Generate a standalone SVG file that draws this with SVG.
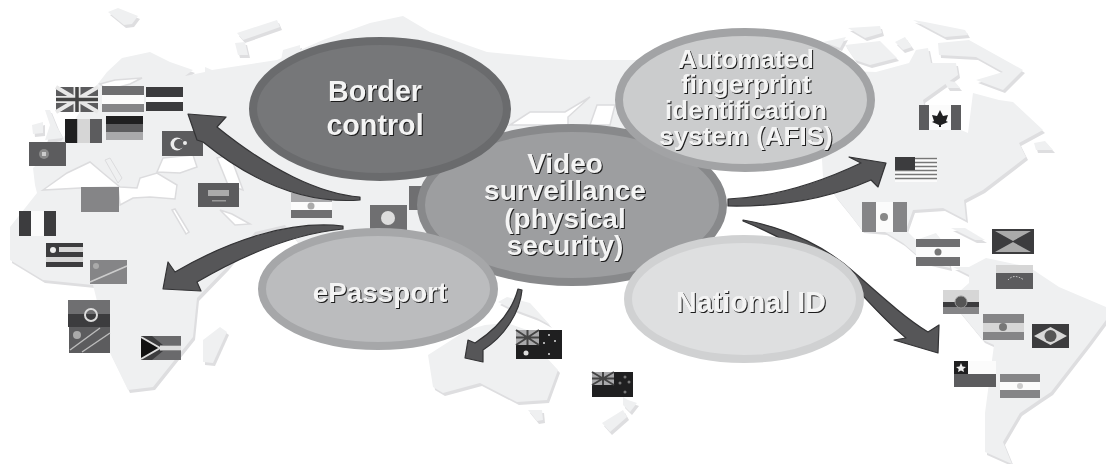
<svg xmlns="http://www.w3.org/2000/svg" xmlns:xlink="http://www.w3.org/1999/xlink" width="1106" height="464" viewBox="0 0 1106 464">
<style>
.gap{fill:#fff;stroke:#dcdcde;stroke-width:1.500}
.node-text{font-family:"Liberation Sans",Arial,sans-serif;font-weight:bold;fill:#f4f4f4;text-anchor:middle;filter:drop-shadow(1.8px 1.8px .3px #1c1c1c)}
.arrow{fill:#565658;stroke:#333335;stroke-width:1.200;stroke-linejoin:round}
.k{fill:#1f1f20}.d{fill:#3c3c3e}.m{fill:#5c5c5e}.n{fill:#6f6f71}.g{fill:#858587}.s{fill:#a9a9ab}.l{fill:#d6d6d6}.w{fill:#fbfbfb}
.wl{stroke:#e8e8e8;fill:none}
</style>
<defs>
<g id="land">
<path d="M33,168L60,143L97,85L107,72L122,58L150,52L170,62L193,70L185,76L205,72L205,67L212,70L277,60L323,40L370,23L403,16L430,32L487,52L570,60L640,60L640,120L600,170L520,240L420,240L300,245L285,225L255,232L227,267L197,298L193,337L153,387L128,390L110,353L93,285L43,280L10,260L10,227L37,193L35,185Z"/>
<path d="M108,12L118,8L138,16L132,24L124,25Z"/>
<path d="M237,33L277,20L280,27L243,40Z"/>
<path d="M235,43L245,42L248,55L238,55Z"/>
<path d="M283,50L300,45L300,60L281,60Z"/>
<path d="M45,110L50,110L57,127L63,138L45,140L50,125Z"/>
<path d="M32,125L43,122L43,133L33,134Z"/>
<path d="M203,340L220,327L227,332L213,363L203,362Z"/>
<path d="M823,42L846,37L840,48Z"/>
<path d="M848,28L880,26L882,33L865,38Z"/>
<path d="M845,45L880,41L897,58L870,65L855,60Z"/>
<path d="M895,42L905,37L912,47L903,50Z"/>
<path d="M913,20L925,22L965,30L968,35L945,37Z"/>
<path d="M938,43L969,40L1023,70L1003,90L976,80L1003,72L976,57L939,55Z"/>
<path d="M943,80L955,82L960,88L948,88Z"/>
<path d="M1034,143L1045,141L1053,150L1036,150Z"/>
<path d="M822,70L876,72L909,63L916,50L928,48L931,63L956,63L958,75L923,100L930,130L961,130L968,133L973,93L999,100L1013,102L1043,130L1019,143L1026,157L983,190L964,200L966,220L943,208L913,210L906,230L916,240L936,233L945,245L950,268L925,262L903,243L885,232L862,230L849,213L836,197L823,177L822,160Z"/>
<path d="M951,228L965,228L985,240L975,240Z"/>
<path d="M953,267L969,267L986,258L1029,267L1059,287L1106,307L1106,320L1089,343L1051,392L1039,400L1020,413L1003,442L1012,464L985,452L985,413L994,345L983,340L950,300L969,283L969,275Z"/>
<path d="M428,355L467,330L485,325L507,323L527,330L535,345L558,370L547,400L517,402L480,383L443,393L433,387Z"/>
<path d="M528,410L542,410L543,420L537,421Z"/>
<path d="M498,302L507,297L530,303L550,325L537,318L510,308Z"/>
<path d="M602,423L623,410L627,417L610,432Z"/>
<path d="M623,397L628,400L637,403L630,412L623,405Z"/>
</g>
</defs>
<rect width="1106" height="464" fill="#fff"/>
<g id="map">
<use xlink:href="#land" x="2" y="3" fill="#dedee0"/>
<use xlink:href="#land" fill="#eff0f1"/>
<path class="gap" d="M43,190L67,173L90,162L103,173L120,187L137,188L140,178L157,173L177,185L175,199L150,197L133,198L120,205L118,187L80,188Z"/>
<path d="M105,160L110,158L122,178L118,183Z" fill="#eff0f1" stroke="#dcdcde"/>
<path class="gap" d="M157,172L163,158L193,155L197,167L180,173Z"/>
<path class="gap" d="M217,158L230,155L243,190L228,185L222,170Z"/>
<path class="gap" d="M172,210L175,209L189,232L186,234Z"/>
<path class="gap" d="M220,210L232,214L250,224L235,225Z"/>
<path class="gap" d="M510,125L530,112L565,112L590,97L568,117L568,125Z"/>
<path class="gap" d="M590,125L597,105L615,105L610,125Z"/>
<path class="gap" d="M100,84L115,80L142,78L130,84L108,90Z"/>
</g>
<g id="flags">
<g id="flag-uk"><rect class="m" x="56" y="87" width="42" height="25"/><path class="wl" stroke-width="4" d="M56,87L98,112M98,87L56,112"/><path class="wl" stroke-width="7" d="M77,87V112M56,99.500H98"/><path d="M77,87V112M56,99.500H98" stroke="#444" stroke-width="3.500"/></g>
<g id="flag-nl"><rect class="n" x="102" y="86" width="42" height="9"/><rect class="w" x="102" y="95" width="42" height="9"/><rect class="g" x="102" y="104" width="42" height="8"/></g>
<g id="flag-at"><rect class="d" x="146" y="87" width="37" height="24"/><rect class="w" x="146" y="97" width="37" height="5"/></g>
<g id="flag-be"><rect class="k" x="65" y="119" width="12.500" height="24"/><rect class="l" x="77.500" y="119" width="12.500" height="24"/><rect class="m" x="90" y="119" width="12" height="24"/></g>
<g id="flag-de"><rect class="k" x="106" y="116" width="37" height="8"/><rect class="m" x="106" y="124" width="37" height="8"/><rect class="s" x="106" y="132" width="37" height="8"/></g>
<g id="flag-pt"><rect class="m" x="29" y="142" width="37" height="24"/><circle cx="44" cy="154" r="5" fill="#8a8a8a"/><rect x="42" y="152" width="4" height="4" fill="#ccc"/></g>
<g id="flag-tr"><rect class="m" x="162" y="131" width="41" height="25"/><circle cx="177" cy="144" r="6.500" fill="#ececec"/><circle cx="179" cy="144" r="5" class="m"/><circle cx="185" cy="143" r="2" fill="#ececec"/></g>
<g id="flag-eg"><rect class="g" x="81" y="187" width="38" height="25"/></g>
<g id="flag-sa"><rect class="m" x="198" y="183" width="41" height="24"/><rect x="208" y="190" width="21" height="6" fill="#aaa"/><rect x="212" y="200" width="14" height="1.500" fill="#999"/></g>
<g id="flag-in"><rect class="s" x="291" y="193" width="41" height="9"/><rect class="w" x="291" y="202" width="41" height="8"/><rect class="n" x="291" y="210" width="41" height="8"/><circle cx="311" cy="206" r="3.500" fill="#aaa"/></g>
<g id="flag-hk"><rect class="n" x="370" y="205" width="37" height="25"/><circle cx="388" cy="218" r="7" fill="#ddd"/></g>
<g id="flag-cn"><rect class="n" x="409" y="186" width="18" height="24"/></g>
<g id="flag-ng"><rect class="d" x="19" y="211" width="12" height="25"/><rect class="w" x="31" y="211" width="13" height="25"/><rect class="d" x="44" y="211" width="12" height="25"/></g>
<g id="flag-lr"><rect class="d" x="46" y="243" width="37" height="24"/><rect class="l" x="59" y="247" width="24" height="5"/><rect class="l" x="46" y="257" width="37" height="5"/><circle cx="53" cy="250" r="3" fill="#eee"/></g>
<g id="flag-cg"><rect class="g" x="90" y="260" width="37" height="24"/><path d="M90,282L127,266" stroke="#ccc" stroke-width="1.500"/><circle cx="96" cy="266" r="3" fill="#aaa"/></g>
<g id="flag-ao"><rect class="n" x="68" y="300" width="42" height="14"/><rect class="d" x="68" y="314" width="42" height="13"/><circle cx="91" cy="315" r="6" fill="none" stroke="#ddd" stroke-width="2"/></g>
<g id="flag-cd"><rect class="m" x="69" y="327" width="41" height="26"/><path d="M70,350L100,328M82,352L110,333" stroke="#bbb" stroke-width="1.500"/><circle cx="77" cy="335" r="4" fill="#aaa"/></g>
<g id="flag-za"><rect class="d" x="141" y="336" width="40" height="24"/><path d="M141,336H181V345H163L152,336ZM141,360H181V351H163L152,360Z" fill="#6a6a6c"/><path d="M141,337L160,348L141,359" fill="#111" stroke="#ddd" stroke-width="2"/><path d="M160,348H181" stroke="#ddd" stroke-width="5"/></g>
<g id="flag-au"><rect class="k" x="516" y="330" width="46" height="29"/><rect class="s" x="516" y="330" width="23" height="15"/><path d="M516,330L539,345M539,330L516,345M527.500,330V345M516,337.500H539" stroke="#444" stroke-width="2"/><circle cx="526" cy="353" r="2.500" fill="#ddd"/><circle cx="549" cy="335" r="1" fill="#ddd"/><circle cx="555" cy="341" r="1" fill="#ddd"/><circle cx="544" cy="343" r="1" fill="#ddd"/><circle cx="549" cy="354" r="1" fill="#ddd"/></g>
<g id="flag-nz"><rect class="k" x="592" y="372" width="41" height="25"/><rect class="s" x="592" y="372" width="22" height="13"/><path d="M592,372L614,385M614,372L592,385M603,372V385M592,378.500H614" stroke="#444" stroke-width="2"/><circle cx="625" cy="377" r="1.500" fill="#777"/><circle cx="625" cy="392" r="1.500" fill="#777"/><circle cx="620" cy="383" r="1.500" fill="#777"/><circle cx="629" cy="382" r="1.500" fill="#777"/></g>
<g id="flag-ca"><rect class="w" x="919" y="105" width="42" height="25"/><rect class="m" x="919" y="105" width="10" height="25"/><rect class="m" x="951" y="105" width="10" height="25"/><path d="M940,110L943,116L948,115L946,121L948,122L941,125V127H939V125L932,122L934,121L932,115L937,116Z" class="k"/></g>
<g id="flag-us"><rect class="w" x="895" y="157" width="42" height="25"/><path d="M895,158.500H937M895,162.500H937M895,166.500H937M895,170.500H937M895,174.500H937M895,178.500H937" stroke="#777" stroke-width="1.700"/><rect class="d" x="895" y="157" width="20" height="13"/></g>
<g id="flag-mx"><rect class="g" x="862" y="202" width="14" height="30"/><rect class="w" x="876" y="202" width="17" height="30"/><rect class="g" x="893" y="202" width="14" height="30"/><circle cx="884" cy="217" r="4" fill="#888"/></g>
<g id="flag-sv"><rect class="n" x="916" y="239" width="44" height="8"/><rect class="w" x="916" y="247" width="44" height="10"/><rect class="n" x="916" y="257" width="44" height="9"/><circle cx="938" cy="252" r="3.500" fill="#777"/></g>
<g id="flag-gd"><rect class="d" x="992" y="229" width="42" height="25"/><path d="M995,231H1031L1013,241ZM995,252H1031L1013,242Z" fill="#aaa"/></g>
<g id="flag-ve"><rect class="l" x="996" y="265" width="37" height="8"/><rect class="m" x="996" y="273" width="37" height="16"/><path d="M1008,280Q1014,273 1024,280" fill="none" stroke="#ddd" stroke-dasharray="1.500 1.500"/></g>
<g id="flag-ec"><rect class="l" x="943" y="290" width="36" height="12"/><rect class="d" x="943" y="302" width="36" height="5"/><rect class="g" x="943" y="307" width="36" height="7"/><circle cx="961" cy="302" r="6" fill="#555" stroke="#999"/></g>
<g id="flag-bo"><rect class="g" x="983" y="314" width="41" height="9"/><rect class="l" x="983" y="323" width="41" height="9"/><rect class="g" x="983" y="332" width="41" height="8"/><circle cx="1003" cy="327" r="4" fill="#777"/></g>
<g id="flag-br"><rect class="d" x="1032" y="324" width="37" height="24"/><path d="M1034,336L1050.500,327L1067,336L1050.500,345Z" fill="#d8d8d8"/><circle cx="1050.500" cy="336" r="6" fill="#555"/></g>
<g id="flag-cl"><rect class="w" x="954" y="361" width="42" height="13"/><rect class="k" x="954" y="361" width="14" height="13"/><rect class="m" x="954" y="374" width="42" height="13"/><path d="M961,363L962.500,366.500L966,367L963.300,369L964,372L961,370.500L958,372L958.700,369L956,367L959.500,366.500Z" fill="#eee"/></g>
<g id="flag-ar"><rect class="g" x="1000" y="374" width="40" height="8"/><rect class="w" x="1000" y="382" width="40" height="8"/><rect class="g" x="1000" y="390" width="40" height="8"/><circle cx="1020" cy="386" r="3" fill="#ccc"/></g>
</g>
<g id="connectors">
<path class="arrow" d="M360,197C320,194 270,170 217,127L226,117L188,114L197,140L203,142C240,172 295,205 360,200Z"/>
<path class="arrow" d="M343,226C290,220 230,240 175,272L168,262L163,289L201,291L197,282C240,257 290,234 343,229Z"/>
<path class="arrow" d="M518,289L522,290C520,312 505,336 483,350L483,362L465,358L468,340L475,343C495,330 512,312 518,289Z"/>
<path class="arrow" d="M728,199C780,197 825,180 861,163L849,157L886,163L878,187L871,180C830,198 780,207 728,206Z"/>
<path class="arrow" d="M743,220C790,228 830,250 855,273C880,295 905,318 928,332L939,325L938,353L894,340L906,338C890,325 878,312 864,297C845,275 790,240 743,221Z"/>
</g>
<g id="node-video"><ellipse cx="572" cy="205" rx="151" ry="77" fill="#9d9ea0" stroke="#88898b" stroke-width="8"/><text class="node-text" font-size="28" x="565"><tspan x="565" y="173">Video</tspan><tspan x="565" y="200">surveillance</tspan><tspan x="565" y="228">(physical</tspan><tspan x="565" y="255">security)</tspan></text></g>
<g id="node-border"><ellipse cx="380" cy="109" rx="127" ry="68" fill="#767779" stroke="#6a6b6d" stroke-width="8"/><text class="node-text" font-size="28.700" x="375"><tspan x="375" y="101">Border</tspan><tspan x="375" y="135">control</tspan></text></g>
<g id="node-afis"><ellipse cx="745" cy="100" rx="126" ry="68" fill="#cbcccd" stroke="#a2a3a5" stroke-width="8"/><text class="node-text" font-size="26" x="746"><tspan x="746" y="68">Automated</tspan><tspan x="746" y="93">fingerprint</tspan><tspan x="746" y="119">identification</tspan><tspan x="746" y="145">system (AFIS)</tspan></text></g>
<g id="node-epassport"><ellipse cx="378" cy="289" rx="116" ry="57" fill="#bbbcbe" stroke="#a6a7a9" stroke-width="8"/><text class="node-text" font-size="27.800" x="380" y="302">ePassport</text></g>
<g id="node-national"><ellipse cx="744" cy="299" rx="116" ry="60" fill="#dedfe0" stroke="#d0d1d2" stroke-width="8"/><text class="node-text" font-size="28.700" x="751" y="312">National ID</text></g>
</svg>
